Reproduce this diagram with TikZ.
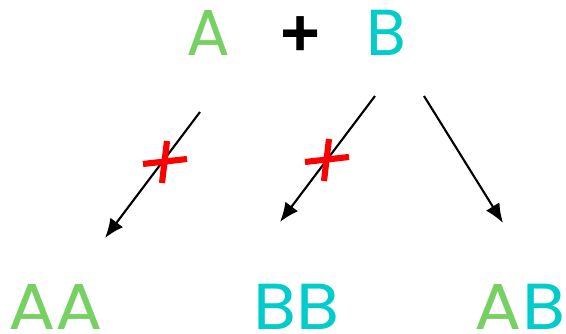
\documentclass[tikz,border=0pt]{standalone}
\usepackage{fontspec}
\setmainfont{Poppins}
\newfontfamily\plusfont{Open Sans}
\usetikzlibrary{arrows.meta}
\definecolor{agreen}{RGB}{119,209,98}
\definecolor{bcyan}{RGB}{0,204,204}
\tikzset{
  mol/.style={inner sep=0pt,anchor=base,font=\fontsize{37}{40}\selectfont},
  react/.style={line width=1.2pt,-{Latex[length=11pt,width=9pt]}},
  cross/.style={red,line width=3.5pt}
}
\begin{document}
\begin{tikzpicture}[x=0.02cm,y=-0.02cm]
  \useasboundingbox (0,0) rectangle (566,334);
  \node[mol,text=agreen] (A) at (208,56) {A};
  \node[inner sep=0pt,font=\plusfont\fontsize{40}{40}\selectfont\bfseries] (plus) at (301,38) {+};
  \node[mol,text=bcyan] (B) at (386,56) {B};
  \node[mol,text=agreen,xscale=1.08] (AA) at (56,330) {AA};
  \node[mol,text=bcyan,xscale=1.08] (BB) at (297,330) {BB};
  \node[mol,xscale=1.08] (AB) at (520,330) {\textcolor{agreen}{A}\textcolor{bcyan}{B}};
  \coordinate (a1) at (200,112);
  \coordinate (e1) at (105,238);
  \coordinate (a2) at (375,96);
  \coordinate (e2) at (280,222);
  \coordinate (a3) at (424,96);
  \coordinate (e3) at (503,223);
  \draw[react] (a1) -- (e1);
  \draw[react] (a2) -- (e2);
  \draw[react] (a3) -- (e3);
  \draw[cross] (143,164) -- (187,159) (167,141) -- (162,183);
  \draw[cross] (305,162) -- (349,157) (329,139) -- (324,181);
\end{tikzpicture}
\end{document}
